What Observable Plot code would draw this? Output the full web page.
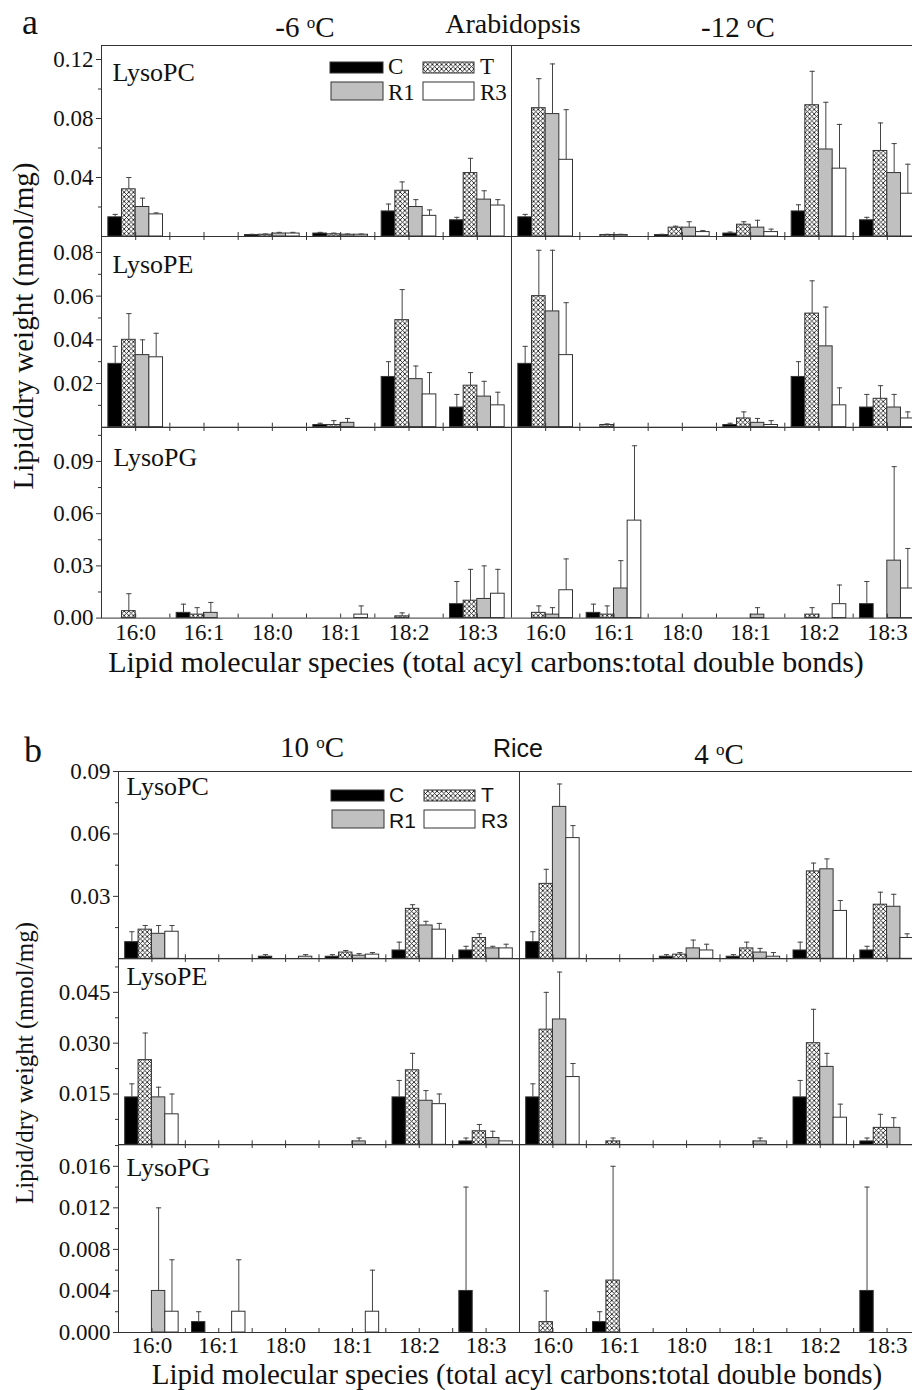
<!DOCTYPE html>
<html><head><meta charset="utf-8">
<script src="https://cdn.jsdelivr.net/npm/d3@7"></script>
<script src="https://cdn.jsdelivr.net/npm/@observablehq/plot@0.6"></script>
<style>
body{margin:0;background:#fff;}
#page{position:relative;width:912px;height:1390px;overflow:hidden;background:#fff;}
#overlay{position:absolute;left:0;top:0;pointer-events:none;}
</style></head><body>
<svg width="0" height="0" style="position:absolute"><defs>
<pattern id="xhatch" patternUnits="userSpaceOnUse" width="4.6" height="4.6">
<rect width="4.6" height="4.6" fill="#fff"/>
<path d="M0,0L4.6,4.6M4.6,0L0,4.6" stroke="#111" stroke-width="0.85"/>
</pattern></defs></svg>
<div id="page"></div>
<script>
const categories = ["16:0","16:1","18:0","18:1","18:2","18:3"];
const seriesNames = ["C","T","R1","R3"];
const tempsArab = ["-6", "-12"];
const tempsRice = ["10", "4"];
const lipidClasses = ["LysoPC","LysoPE","LysoPG"];

// Arabidopsis, values per category [C, T, R1, R3]
const arabLysoPC_m6     = [[0.013,0.032,0.020,0.015],[0,0,0,0],[0.001,0.0012,0.002,0.002],[0.002,0.0015,0.0012,0.0012],[0.017,0.031,0.020,0.014],[0.011,0.043,0.025,0.021]];
const arabLysoPC_m6Err  = [[0.002,0.008,0.006,0.001],[0,0,0,0],[0.0005,0.0005,0.0008,0.0008],[0.0008,0.0008,0.0005,0.0005],[0.005,0.006,0.005,0.004],[0.002,0.010,0.006,0.004]];
const arabLysoPC_m12    = [[0.013,0.087,0.083,0.052],[0,0.001,0.001,0],[0.001,0.006,0.006,0.003],[0.002,0.008,0.006,0.003],[0.017,0.089,0.059,0.046],[0.011,0.058,0.043,0.029]];
const arabLysoPC_m12Err = [[0.002,0.020,0.034,0.034],[0,0.0005,0.0005,0],[0.0005,0.001,0.004,0.001],[0.001,0.002,0.005,0.002],[0.0045,0.023,0.032,0.030],[0.002,0.019,0.020,0.020]];
const arabLysoPE_m6     = [[0.029,0.040,0.033,0.032],[0,0,0,0],[0,0,0,0],[0.001,0.001,0.002,0],[0.023,0.049,0.022,0.015],[0.009,0.019,0.014,0.010]];
const arabLysoPE_m6Err  = [[0.008,0.012,0.007,0.011],[0,0,0,0],[0,0,0,0],[0.0008,0.002,0.002,0],[0.007,0.014,0.006,0.010],[0.006,0.006,0.007,0.006]];
const arabLysoPE_m12    = [[0.029,0.060,0.053,0.033],[0,0.001,0,0],[0,0,0,0],[0.001,0.004,0.002,0.001],[0.023,0.052,0.037,0.010],[0.009,0.013,0.009,0.004]];
const arabLysoPE_m12Err = [[0.008,0.021,0.028,0.024],[0,0.0005,0,0],[0,0,0,0],[0.0008,0.003,0.002,0.002],[0.007,0.015,0.018,0.008],[0.006,0.006,0.006,0.003]];
const arabLysoPG_m6     = [[0,0.004,0,0],[0.003,0.002,0.003,0],[0,0,0,0],[0,0,0,0.002],[0,0.001,0,0],[0.008,0.010,0.011,0.014]];
const arabLysoPG_m6Err  = [[0,0.010,0,0],[0.005,0.004,0.006,0],[0,0,0,0],[0,0,0,0.005],[0,0.002,0,0],[0.013,0.018,0.019,0.014]];
const arabLysoPG_m12    = [[0,0.003,0.002,0.016],[0.003,0.002,0.017,0.056],[0,0,0,0],[0,0,0.002,0],[0,0.002,0,0.008],[0.008,0,0.033,0.017]];
const arabLysoPG_m12Err = [[0,0.004,0.004,0.018],[0.005,0.005,0.016,0.043],[0,0,0,0],[0,0,0.004,0],[0,0.004,0,0.011],[0.013,0,0.054,0.023]];

// Rice
const riceLysoPC_10     = [[0.008,0.014,0.012,0.013],[0,0,0,0],[0.001,0,0,0.001],[0.001,0.003,0.0015,0.002],[0.004,0.024,0.016,0.014],[0.004,0.010,0.005,0.005]];
const riceLysoPC_10Err  = [[0.005,0.002,0.004,0.003],[0,0,0,0],[0.001,0,0,0.001],[0.001,0.001,0.001,0.001],[0.004,0.002,0.002,0.003],[0.002,0.002,0.001,0.002]];
const riceLysoPC_4      = [[0.008,0.036,0.073,0.058],[0,0,0,0],[0.001,0.002,0.005,0.004],[0.001,0.005,0.003,0.001],[0.004,0.042,0.043,0.023],[0.004,0.026,0.025,0.010]];
const riceLysoPC_4Err   = [[0.005,0.007,0.011,0.006],[0,0,0,0],[0.001,0.001,0.004,0.003],[0.001,0.003,0.002,0.002],[0.004,0.004,0.005,0.005],[0.002,0.006,0.006,0.002]];
const riceLysoPE_10     = [[0.014,0.025,0.014,0.009],[0,0,0,0],[0,0,0,0],[0,0,0.001,0],[0.014,0.022,0.013,0.012],[0.001,0.004,0.002,0.001]];
const riceLysoPE_10Err  = [[0.004,0.008,0.003,0.006],[0,0,0,0],[0,0,0,0],[0,0,0.001,0],[0.005,0.005,0.003,0.003],[0.001,0.002,0.002,0]];
const riceLysoPE_4      = [[0.014,0.034,0.037,0.020],[0,0.001,0,0],[0,0,0,0],[0,0,0.001,0],[0.014,0.030,0.023,0.008],[0.001,0.005,0.005,0]];
const riceLysoPE_4Err   = [[0.004,0.011,0.014,0.004],[0,0.001,0,0],[0,0,0,0],[0,0,0.001,0],[0.005,0.010,0.004,0.004],[0.001,0.004,0.003,0]];
const riceLysoPG_10     = [[0,0,0.004,0.002],[0.001,0,0,0.002],[0,0,0,0],[0,0,0,0.002],[0,0,0,0],[0.004,0,0,0]];
const riceLysoPG_10Err  = [[0,0,0.008,0.005],[0.001,0,0,0.005],[0,0,0,0],[0,0,0,0.004],[0,0,0,0],[0.010,0,0,0]];
const riceLysoPG_4      = [[0,0.001,0,0],[0.001,0.005,0,0],[0,0,0,0],[0,0,0,0],[0,0,0,0],[0.004,0,0,0]];
const riceLysoPG_4Err   = [[0,0.003,0,0],[0.001,0.011,0,0],[0,0,0,0],[0,0,0,0],[0,0,0,0],[0.010,0,0,0]];

// y tick values
const ticksArabPC = [0.04,0.08,0.12], minorArabPC = [0.02,0.06,0.10];
const ticksArabPE = [0.02,0.04,0.06,0.08], minorArabPE = [0.01,0.03,0.05,0.07];
const ticksArabPG = [0,0.03,0.06,0.09], minorArabPG = [0.015,0.045,0.075,0.105];
const ticksRicePC = [0.03,0.06,0.09], minorRicePC = [0.015,0.045,0.075];
const ticksRicePE = [0.015,0.030,0.045], minorRicePE = [0.0075,0.0225,0.0375,0.0525];
const ticksRicePG = [0,0.004,0.008,0.012,0.016], minorRicePG = [0.002,0.006,0.010,0.014,0.018];

const fills = {C: "#000", T: "url(#xhatch)", R1: "#c0c0c0", R3: "#fff"};

const panels = [
  {left: 101, right: 921, xPad: 6, rows: [
    {name: "LysoPC", top: 45, bottom: 236, ymax: 0.1295, ticks: ticksArabPC, minor: minorArabPC, fmt: ".2f", vals: [arabLysoPC_m6, arabLysoPC_m12], errs: [arabLysoPC_m6Err, arabLysoPC_m12Err], ldx: 11, ldy: 17},
    {name: "LysoPE", top: 236, bottom: 426.7, ymax: 0.0873, ticks: ticksArabPE, minor: minorArabPE, fmt: ".2f", vals: [arabLysoPE_m6, arabLysoPE_m12], errs: [arabLysoPE_m6Err, arabLysoPE_m12Err], ldx: 11, ldy: 18},
    {name: "LysoPG", top: 426.7, bottom: 617.3, ymax: 0.1095, ticks: ticksArabPG, minor: minorArabPG, fmt: ".2f", vals: [arabLysoPG_m6, arabLysoPG_m12], errs: [arabLysoPG_m6Err, arabLysoPG_m12Err], ldx: 12, ldy: 20}
  ]},
  {left: 118, right: 920, xPad: 4, rows: [
    {name: "LysoPC", top: 770.7, bottom: 958, ymax: 0.09, ticks: ticksRicePC, minor: minorRicePC, fmt: ".2f", vals: [riceLysoPC_10, riceLysoPC_4], errs: [riceLysoPC_10Err, riceLysoPC_4Err], ldx: 8, ldy: 5},
    {name: "LysoPE", top: 958, bottom: 1144.3, ymax: 0.055, ticks: ticksRicePE, minor: minorRicePE, fmt: ".3f", vals: [riceLysoPE_10, riceLysoPE_4], errs: [riceLysoPE_10Err, riceLysoPE_4Err], ldx: 8, ldy: 8},
    {name: "LysoPG", top: 1144.3, bottom: 1332.3, ymax: 0.0181, ticks: ticksRicePG, minor: minorRicePG, fmt: ".3f", vals: [riceLysoPG_10, riceLysoPG_4], errs: [riceLysoPG_10Err, riceLysoPG_4Err], ldx: 8, ldy: 13}
  ]}
];

const capSymbol = {draw(context, size) { const r = Math.sqrt(size / Math.PI); context.moveTo(-r, 0); context.lineTo(r, 0); }};
const page = document.getElementById("page");
const W = 930;

panels.forEach(panel => {
  panel.rows.forEach((row, ri) => {
    const h = row.bottom - row.top;
    const isBottom = ri === 2, isTop = ri === 0;
    const mb = isBottom ? 40 : 0;
    const recs = [];
    row.vals.forEach((tv, t) => tv.forEach((cv, c) => cv.forEach((v, s) => {
      recs.push({slot: t * 6 + c, series: seriesNames[s], s, v, e: row.errs[t][c][s]});
    })));
    const bars = recs.filter(d => d.v > 0);
    const errs = recs.filter(d => d.e > 0);
    const x1 = d => d.slot + 0.1 + 0.2 * d.s;
    const x2 = d => d.slot + 0.3 + 0.2 * d.s;
    const xm = d => d.slot + 0.2 + 0.2 * d.s;
    const centers = d3.range(12).map(i => i + 0.5);
    const inner = [...centers, ...d3.range(1, 12).filter(b => b !== 6)];
    const svg = Plot.plot({
      width: W, height: h + mb,
      marginLeft: panel.left, marginRight: W - panel.right, marginTop: 0, marginBottom: mb,
      x: {domain: [0, 12], axis: null},
      y: {domain: [0, row.ymax], axis: null},
      style: {background: "transparent", overflow: "visible", maxWidth: "none", fontFamily: "'Liberation Serif', 'Times New Roman', serif", color: "#111"},
      marks: [
        ...seriesNames.map(s => Plot.rectY(bars.filter(d => d.series === s), {x1, x2, y1: 0, y2: "v", fill: fills[s], stroke: "#333", strokeWidth: 1})),
        Plot.ruleX(errs, {x: xm, y1: "v", y2: d => d.v + d.e, stroke: "#444", strokeWidth: 1}),
        Plot.dot(errs, {x: xm, y: d => d.v + d.e, symbol: capSymbol, r: 2.6, fill: "none", stroke: "#444", strokeWidth: 1}),
        Plot.tickX(inner, {x: d => d, insetTop: h - 4, stroke: "#333"}),
        isTop ? null : Plot.tickX(inner, {x: d => d, insetBottom: h - 4, stroke: "#333"}),
        Plot.ruleX([6], {stroke: "#333", strokeWidth: 1}),
        Plot.frame({stroke: "#333", strokeWidth: 1}),
        Plot.axisY({ticks: row.minor, tickSize: 3, tickFormat: () => "", label: null, stroke: "#333"}),
        Plot.axisY({ticks: row.ticks, tickSize: 5, tickPadding: 3, tickFormat: d3.format(row.fmt), label: null, fontSize: 23, stroke: "#333"}),
        isBottom ? Plot.axisX({ticks: centers, tickFormat: d => categories[Math.floor(d) % 6], tickSize: 0, tickPadding: panel.xPad, label: null, fontSize: 23}) : null,
        Plot.text([row.name], {text: d => d, frameAnchor: "top-left", dx: row.ldx, dy: row.ldy, fontSize: 26, lineAnchor: "top", textAnchor: "start", fill: "#111"})
      ]
    });
    svg.style.position = "absolute";
    svg.style.left = "0px";
    svg.style.top = row.top + "px";
    page.appendChild(svg);
  });
});

// overlay: titles, legends, axis titles
const serif = "'Liberation Serif','Times New Roman',serif";
const sans = "'Liberation Sans',Arial,sans-serif";
function deg(t) { return `${t} <tspan baseline-shift="super" font-size="17">o</tspan>C`; }
function legend(x, y, family, size) {
  return `<g font-family="${family}" font-size="${size}" fill="#111">
    <rect x="${x}" y="${y}" width="53" height="11" fill="#000" stroke="#333"/>
    <text x="${x + 58}" y="${y + 12}">${seriesNames[0]}</text>
    <rect x="${x + 93}" y="${y}" width="51" height="11" fill="url(#xhatch)" stroke="#333"/>
    <text x="${x + 150}" y="${y + 12}">${seriesNames[1]}</text>
    <rect x="${x + 1}" y="${y + 20}" width="52" height="18" fill="#c0c0c0" stroke="#333"/>
    <text x="${x + 58}" y="${y + 38}">${seriesNames[2]}</text>
    <rect x="${x + 93}" y="${y + 20}" width="51" height="18" fill="#fff" stroke="#333"/>
    <text x="${x + 150}" y="${y + 38}">${seriesNames[3]}</text>
  </g>`;
}
const xTitle = "Lipid molecular species (total acyl carbons:total double bonds)";
const yTitle = "Lipid/dry weight (nmol/mg)";
const overlay = `<svg id="overlay" width="912" height="1390" font-family="${serif}" fill="#111">
  <text x="22" y="34" font-size="36">a</text>
  <text x="305" y="37" font-size="29" text-anchor="middle">${deg(tempsArab[0])}</text>
  <text x="513" y="33" font-size="28" text-anchor="middle">Arabidopsis</text>
  <text x="738" y="37" font-size="29" text-anchor="middle">${deg(tempsArab[1])}</text>
  ${legend(330, 62, serif, 23)}
  <text transform="translate(33,326) rotate(-90)" font-size="29" text-anchor="middle">${yTitle}</text>
  <text x="486" y="672" font-size="30" text-anchor="middle">${xTitle}</text>

  <text x="24" y="762" font-size="36">b</text>
  <text x="312" y="757" font-size="29" text-anchor="middle">${deg(tempsRice[0])}</text>
  <text x="518" y="757" font-size="25" text-anchor="middle" font-family="${sans}">Rice</text>
  <text x="719" y="764" font-size="29" text-anchor="middle">${deg(tempsRice[1])}</text>
  ${legend(331, 790, sans, 21)}
  <text transform="translate(33,1063) rotate(-90)" font-size="25" text-anchor="middle">${yTitle}</text>
  <text x="517" y="1383.6" font-size="29" text-anchor="middle">${xTitle}</text>
</svg>`;
page.insertAdjacentHTML("beforeend", overlay);
</script></body></html>
